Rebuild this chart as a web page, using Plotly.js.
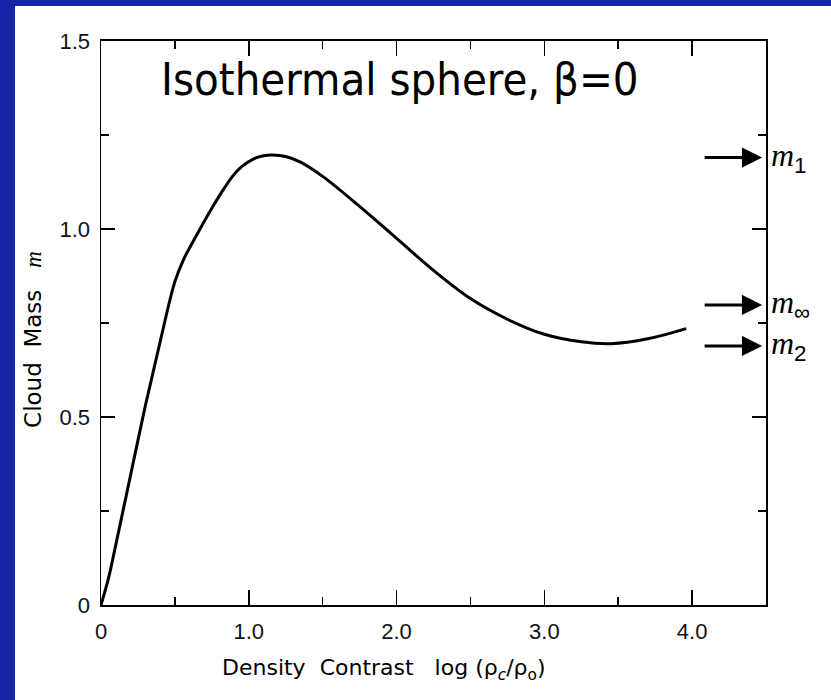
<!DOCTYPE html>
<html>
<head>
<meta charset="utf-8">
<script src="https://cdn.plot.ly/plotly-3.0.1.min.js"></script>
<style>
  html, body { margin: 0; padding: 0; background: #1526a8; width: 831px; height: 700px; overflow: hidden; }
  #chart { position: absolute; left: 15px; top: 6px; width: 816px; height: 694px; background: #fff; }
</style>
</head>
<body>
<div id="chart"></div>
<script>
// Isothermal (Bonnor-Ebert) sphere: cloud mass vs. density contrast
const logContrast = [0, 0.05, 0.1, 0.2, 0.3, 0.4, 0.5, 0.56, 0.6, 0.67, 0.75, 0.82, 0.89, 0.95, 1.03, 1.1, 1.16,
                     1.25, 1.35, 1.5, 1.75, 2.0, 2.25, 2.5, 2.75, 3.0, 3.25, 3.45, 3.7, 3.96];
const cloudMass   = [0, 0.07, 0.16, 0.345, 0.53, 0.7, 0.86, 0.92, 0.95, 1.0, 1.055, 1.10, 1.14, 1.165, 1.186, 1.195, 1.197,
                     1.193, 1.178, 1.14, 1.06, 0.975, 0.89, 0.815, 0.76, 0.72, 0.70, 0.695, 0.708, 0.735];

// Characteristic masses marked on the right-hand axis
const markSymbols = ['1', '∞', '2'];
const markValues  = [1.19, 0.798, 0.689];

const xTickVals = [0, 1, 2, 3, 4];
const xTickText = ['0', '1.0', '2.0', '3.0', '4.0'];
const yTickVals = [0, 0.5, 1.0, 1.5];
const yTickText = ['0', '0.5', '1.0', '1.5'];

const sans = 'Liberation Sans, Arial, sans-serif';
const tickFont = { family: sans, size: 22, color: '#111' };

const trace = {
  x: logContrast, y: cloudMass, type: 'scatter', mode: 'lines',
  line: { color: '#000', width: 3, shape: 'spline', smoothing: 1 },
  hoverinfo: 'skip'
};

const annotations = [
  {
    xref: 'x', yref: 'y', x: 2.02, y: 1.397, showarrow: false,
    text: 'Isothermal sphere, β=0',
    font: { family: 'DejaVu Sans Condensed, DejaVu Sans, sans-serif', size: 45, color: '#000' },
    xanchor: 'center', yanchor: 'middle'
  },
  {
    // horizontal axis title
    xref: 'paper', yref: 'paper', x: 0.425, y: 0, yshift: -64, showarrow: false,
    xanchor: 'center', yanchor: 'middle',
    text: 'Density  Contrast   log (ρ<sub><i>c</i></sub>/ρ<sub>o</sub>)',
    font: { family: 'DejaVu Sans, sans-serif', size: 22, color: '#000' }
  },
  {
    // vertical axis title
    xref: 'paper', yref: 'paper', x: 0, xshift: -68, y: 0.47, showarrow: false,
    xanchor: 'center', yanchor: 'middle', textangle: -90,
    text: 'Cloud  Mass   <i><span style="font-family:Liberation Serif">m</span></i>',
    font: { family: 'DejaVu Sans, sans-serif', size: 23, color: '#000' }
  }
];
markValues.forEach((v, i) => {
  annotations.push({
    xref: 'x', yref: 'y', x: 4.474, y: v, ax: -59, ay: 0,
    showarrow: true, arrowhead: 2, arrowsize: 1.35, arrowwidth: 3, arrowcolor: '#000', text: ''
  });
  annotations.push({
    xref: 'x', yref: 'y', x: 4.5, y: v, xshift: 3, showarrow: false,
    xanchor: 'left', yanchor: 'middle',
    text: '<i>m</i><sub><span style="font-family:Liberation Sans">' + markSymbols[i] + '</span></sub>',
    font: { family: 'Liberation Serif, Times New Roman, serif', size: 32, color: '#000' }
  });
});

const layout = {
  width: 816, height: 694,
  margin: { l: 86, r: 65, t: 35, b: 95 },
  paper_bgcolor: '#fff', plot_bgcolor: '#fff',
  showlegend: false,
  xaxis: {
    range: [0, 4.5], tickvals: xTickVals, ticktext: xTickText,
    ticks: 'inside', ticklen: 15, tickwidth: 1.5, tickcolor: '#000',
    minor: { dtick: 0.5, tick0: 0, ticks: 'inside', ticklen: 8, tickwidth: 1.5, tickcolor: '#000' },
    showline: true, linecolor: '#000', linewidth: 2, mirror: 'ticks',
    showgrid: false, zeroline: false, tickfont: tickFont, ticklabelstandoff: 6
  },
  yaxis: {
    range: [0, 1.5], tickvals: yTickVals, ticktext: yTickText,
    ticks: 'inside', ticklen: 14, tickwidth: 1.5, tickcolor: '#000',
    minor: { dtick: 0.25, tick0: 0, ticks: 'inside', ticklen: 8, tickwidth: 1.5, tickcolor: '#000' },
    showline: true, linecolor: '#000', linewidth: 1.5, mirror: 'ticks',
    showgrid: false, zeroline: false, tickfont: tickFont, ticklabelstandoff: 5
  },
  annotations: annotations
};

Plotly.newPlot('chart', [trace], layout, { displayModeBar: false, staticPlot: true });
</script>
</body>
</html>
